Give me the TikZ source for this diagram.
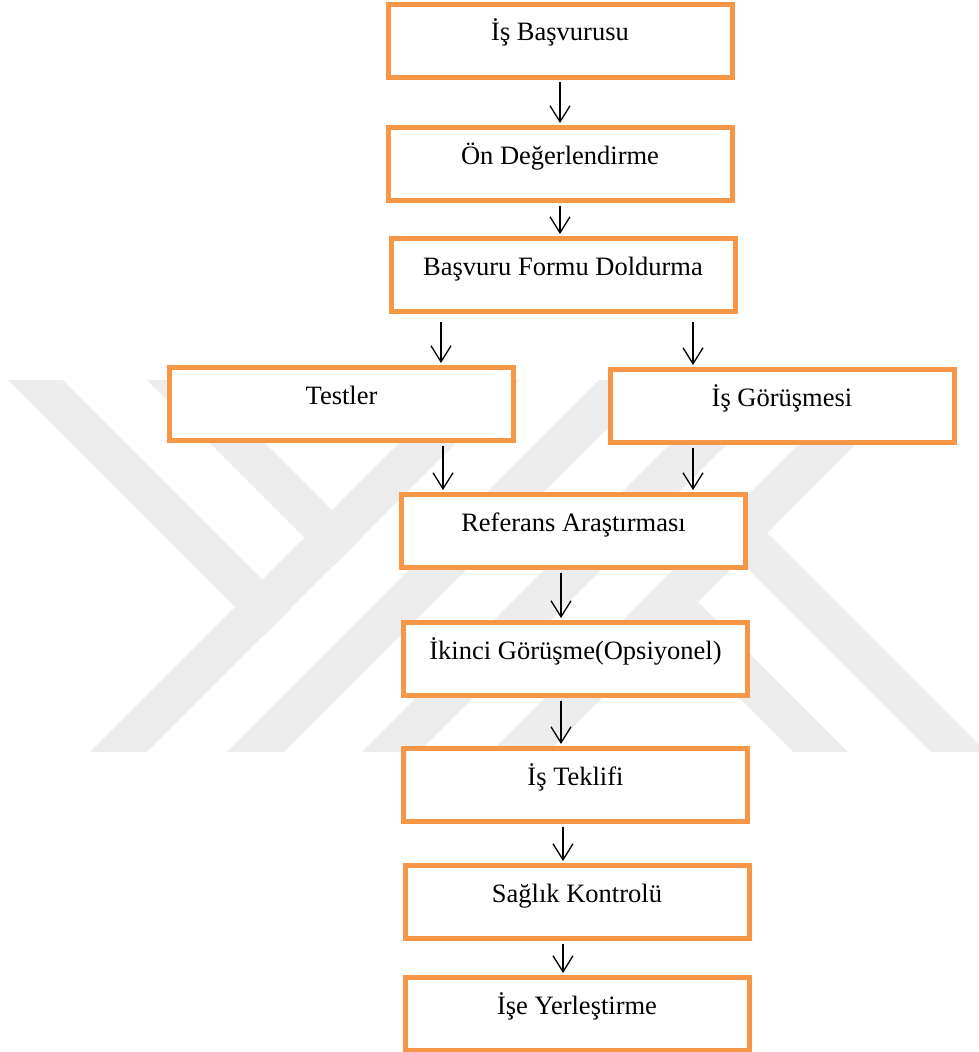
\documentclass[tikz,border=0pt]{standalone}
\usepackage{fontspec}
\setmainfont{Liberation Serif}
\usetikzlibrary{arrows.meta}

\definecolor{boxorange}{RGB}{247,150,70}
\definecolor{logogray}{RGB}{237,237,237}

\tikzset{
  stepbox/.style={draw=boxorange, line width=5pt, fill=white, inner sep=0pt,
    minimum width=344pt, minimum height=73pt, text height=36.5pt, text depth=36.5pt,
    font=\fontsize{26.5}{30}\selectfont},
  flow/.style={line width=1.3pt, -{Straight Barb[length=16pt,width=20pt,line width=1.3pt]},
    shorten <=2.5pt, shorten >=2pt},
  logo/.style={fill=logogray, draw=none}
}

\begin{document}
\begin{tikzpicture}[x=1pt, y=-1pt]
\useasboundingbox (0,0) rectangle (979,1052);

\begin{scope}
\clip (0,380) rectangle (979,752);
\fill[logo] (90,752) -- (147,752) -- (519,380) -- (462,380) -- cycle;
\fill[logo] (227,752) -- (284,752) -- (656,380) -- (599,380) -- cycle;
\fill[logo] (362,752) -- (419,752) -- (791,380) -- (734,380) -- cycle;
\fill[logo] (491,752) -- (548,752) -- (920,380) -- (863,380) -- cycle;
\fill[logo] (8,380) -- (63,380) -- (291,608) -- (263.5,635.5) -- cycle;
\fill[logo] (147,380) -- (202,380) -- (360.5,538.5) -- (333,566) -- cycle;
\fill[logo] (931,752) -- (986,752) -- (738.5,504.5) -- (711,532) -- cycle;
\fill[logo] (793,752) -- (848,752) -- (669.5,573.5) -- (642,601) -- cycle;
\end{scope}

\node[stepbox] (apply) at (560,40.7) {İş Başvurusu};
\node[stepbox] (screen) at (560,164) {Ön Değerlendirme};
\node[stepbox] (form) at (563,275) {Başvuru Formu Doldurma};
\node[stepbox] (tests) at (341.5,404) {Testler};
\node[stepbox] (interview) at (782,406) {İş Görüşmesi};
\node[stepbox] (reference) at (573.5,531) {Referans Araştırması};
\node[stepbox] (second) at (575.5,659) {İkinci Görüşme(Opsiyonel)};
\node[stepbox] (offer) at (575.5,785) {İş Teklifi};
\node[stepbox] (health) at (577,902) {Sağlık Kontrolü};
\node[stepbox] (placement) at (577,1014) {İşe Yerleştirme};

\draw[flow] (apply.south) -- (screen.north);
\draw[flow] (screen.south) -- ([xshift=-3pt]form.north);
\draw[flow] ([xshift=-122pt,yshift=-5pt]form.south) -- ([xshift=99.5pt]tests.north);
\draw[flow] ([xshift=130pt,yshift=-5pt]form.south) -- ([xshift=-89pt]interview.north);
\draw[flow] ([xshift=101.5pt]tests.south) -- ([xshift=-130.5pt]reference.north);
\draw[flow] ([xshift=-89pt]interview.south) -- ([xshift=119.5pt]reference.north);
\draw[flow] ([xshift=-12.5pt]reference.south) -- ([xshift=-14.5pt]second.north);
\draw[flow] ([xshift=-14.5pt]second.south) -- ([xshift=-14.5pt]offer.north);
\draw[flow] ([xshift=-12.5pt]offer.south) -- ([xshift=-14pt]health.north);
\draw[flow] ([xshift=-14pt]health.south) -- ([xshift=-14pt]placement.north);
\end{tikzpicture}
\end{document}
